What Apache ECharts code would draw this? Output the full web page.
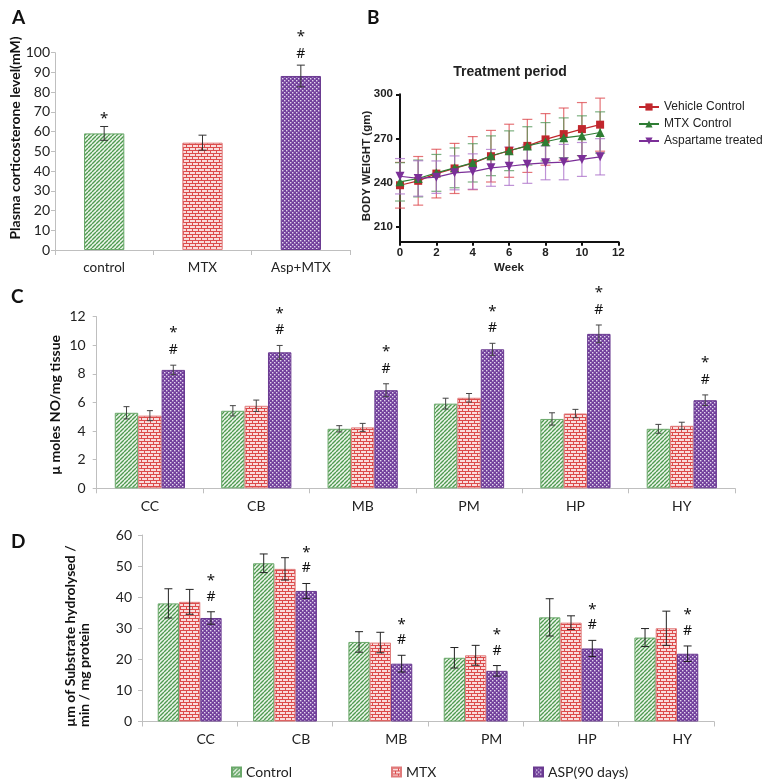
<!DOCTYPE html>
<html>
<head>
<meta charset="utf-8">
<script src="https://cdn.jsdelivr.net/npm/echarts@6/dist/echarts.min.js"></script>
<style>
html,body{margin:0;padding:0;background:#fff;}
#chart{width:762px;height:780px;}
</style>
</head>
<body>
<div id="chart"></div>
<script>
// ---------- DATA ----------
// Panel A
const aCategories = ['control', 'MTX', 'Asp+MTX'];
const aValues = [59.1, 54.4, 88.2];
const aErrors = [3.5, 3.8, 5.5];
const aMarks = [['*'], [], ['*', '#']];

// Panel B
const bWeeks = [0, 1, 2, 3, 4, 5, 6, 7, 8, 9, 10, 11];
const bYTicks = [210, 240, 270, 300];
const bVehicle = [238.3, 241.3, 246.2, 249.7, 253.3, 258.0, 261.7, 265.0, 269.4, 273.0, 276.4, 279.4];
const bVehicleErr = [15.5, 16.5, 16.5, 17.0, 18.0, 17.5, 18.0, 18.0, 17.5, 17.7, 18.0, 18.0];
const bMtx = [240.6, 242.9, 246.7, 250.1, 253.5, 258.3, 261.7, 265.0, 267.8, 270.5, 271.9, 274.1];
const bMtxErr = [13.0, 12.5, 12.5, 13.5, 13.0, 13.5, 13.5, 13.0, 13.0, 13.5, 13.5, 14.0];
const bAsp = [244.4, 242.9, 243.8, 246.7, 247.6, 250.1, 251.2, 252.6, 253.5, 254.0, 255.8, 257.6];
const bAspErr = [12.0, 12.0, 11.0, 11.5, 12.0, 12.5, 13.0, 13.0, 11.5, 12.0, 11.5, 12.3];

// Panel C
const organs = ['CC', 'CB', 'MB', 'PM', 'HP', 'HY'];
const cControl = [5.28, 5.42, 4.16, 5.92, 4.85, 4.16];
const cControlErr = [0.43, 0.36, 0.22, 0.38, 0.43, 0.31];
const cMtx = [5.08, 5.77, 4.26, 6.33, 5.23, 4.37];
const cMtxErr = [0.35, 0.40, 0.28, 0.30, 0.29, 0.25];
const cAsp = [8.28, 9.51, 6.86, 9.72, 10.8, 6.16];
const cAspErr = [0.33, 0.48, 0.45, 0.42, 0.62, 0.37];
const cMarks = [['*', '#'], ['*', '#'], ['*', '#'], ['*', '#'], ['*', '#'], ['*', '#']];

// Panel D
const dControl = [38.0, 50.9, 25.6, 20.5, 33.5, 27.0];
const dControlErr = [4.7, 3.0, 3.3, 3.3, 6.0, 2.9];
const dMtx = [38.5, 49.1, 25.4, 21.3, 31.8, 30.0];
const dMtxErr = [4.0, 3.6, 3.3, 3.2, 2.2, 5.5];
const dAsp = [33.3, 42.0, 18.6, 16.3, 23.5, 21.8];
const dAspErr = [2.0, 2.4, 2.7, 1.7, 2.6, 2.5];
const dMarks = [['*', '#'], ['*', '#'], ['*', '#'], ['*', '#'], ['*', '#'], ['*', '#']];

const groupNames = ['Control', 'MTX', 'ASP(90 days)'];
const bNames = ['Vehicle Control', 'MTX Control', 'Aspartame treated'];

// ---------- STYLE HELPERS ----------
const FONT = 'Lato';
const ARIAL = 'Liberation Sans';
const AXIS_GRAY = '#bfbfbf';

function makeCanvas(w, h) {
  const c = document.createElement('canvas');
  c.width = w; c.height = h;
  return c;
}
function greenHatch() {
  const c = makeCanvas(4, 4), g = c.getContext('2d');
  g.fillStyle = '#eef6ec'; g.fillRect(0, 0, 4, 4);
  g.strokeStyle = '#4f9a50'; g.lineWidth = 1.4;
  g.beginPath();
  for (let k = -4; k <= 8; k += 4) { g.moveTo(k, 4); g.lineTo(k + 4, 0); }
  g.stroke();
  return { image: c, repeat: 'repeat' };
}
function redBrick() {
  const c = makeCanvas(6, 6), g = c.getContext('2d');
  g.fillStyle = '#f9dcdc'; g.fillRect(0, 0, 6, 6);
  g.fillStyle = '#dc4b4b';
  g.fillRect(0, 0, 6, 1);
  g.fillRect(0, 3, 6, 1);
  g.fillRect(0, 0, 1, 3);
  g.fillRect(3, 3, 1, 3);
  return { image: c, repeat: 'repeat' };
}
function purpleDots() {
  const c = makeCanvas(4, 4), g = c.getContext('2d');
  g.fillStyle = '#72409c'; g.fillRect(0, 0, 4, 4);
  g.fillStyle = '#e3d6ee';
  g.fillRect(0, 0, 1.4, 1.4);
  g.fillRect(2, 2, 1.4, 1.4);
  return { image: c, repeat: 'repeat' };
}
const fills = [greenHatch(), redBrick(), purpleDots()];
const borders = ['#6aa86a', '#e07a7a', '#6a3a90'];

function errorSeries(xi, yi, nSeries, idx, gap, values, errors, color, cap, z) {
  return {
    type: 'custom', xAxisIndex: xi, yAxisIndex: yi, z: z || 5, silent: true,
    data: values.map((v, i) => [i, v, errors[i]]),
    encode: { x: 0, y: 1 },
    renderItem: function (params, api) {
      const x = api.value(0), m = api.value(1), e = api.value(2);
      const c = api.coord([x, m]);
      const catW = api.size([1, 0])[0];
      const bw = catW * (1 - gap) / nSeries;
      const cx = c[0] + (idx - (nSeries - 1) / 2) * bw;
      const top = api.coord([x, m + e])[1];
      const bot = api.coord([x, m - e])[1];
      const st = { stroke: color, lineWidth: 1 };
      return { type: 'group', children: [
        { type: 'line', shape: { x1: cx, y1: top, x2: cx, y2: bot }, style: st },
        { type: 'line', shape: { x1: cx - cap, y1: top, x2: cx + cap, y2: top }, style: st },
        { type: 'line', shape: { x1: cx - cap, y1: bot, x2: cx + cap, y2: bot }, style: st }
      ]};
    }
  };
}

function markSeries(xi, yi, nSeries, idx, gap, values, errors, marks, firstGap, step) {
  return {
    type: 'custom', xAxisIndex: xi, yAxisIndex: yi, z: 6, silent: true,
    data: values.map((v, i) => [i, v, errors[i]]),
    encode: { x: 0, y: 1 },
    renderItem: function (params, api) {
      const i = params.dataIndex;
      const x = api.value(0), m = api.value(1), e = api.value(2);
      const c = api.coord([x, m]);
      const catW = api.size([1, 0])[0];
      const bw = catW * (1 - gap) / nSeries;
      const cx = c[0] + (idx - (nSeries - 1) / 2) * bw;
      const top = api.coord([x, m + e])[1];
      const list = marks[i].slice().reverse();
      const children = list.map((t, k) => ({
        type: 'text',
        style: {
          text: t, x: cx, y: top - firstGap - k * step + (t === '*' ? 3 : 0),
          align: 'center', verticalAlign: 'middle',
          fontFamily: 'Noto Sans', fontSize: t === '*' ? 15 : 14, fill: '#111'
        }
      }));
      return { type: 'group', children: children };
    }
  };
}

function barSeries(name, xi, yi, data, k, gap) {
  return {
    name: name, type: 'bar', xAxisIndex: xi, yAxisIndex: yi,
    data: data, barGap: '0%', barCategoryGap: (gap * 100) + '%',
    itemStyle: { color: fills[k], borderColor: borders[k], borderWidth: 1 },
    emphasis: { disabled: true }
  };
}

function catAxis(gi, data, margin, padLeft) {
  return {
    type: 'category', gridIndex: gi, data: data,
    axisLine: { lineStyle: { color: AXIS_GRAY, width: 1 } },
    axisTick: { show: true, length: 5, alignWithLabel: false, lineStyle: { color: AXIS_GRAY } },
    axisLabel: { margin: margin, fontFamily: FONT, fontSize: 14, color: '#222',
      padding: padLeft ? [0, 0, 0, padLeft] : 0 }
  };
}
function valAxis(gi, min, max, interval, margin, fs) {
  return {
    type: 'value', gridIndex: gi, min: min, max: max, interval: interval,
    axisLine: { show: true, lineStyle: { color: AXIS_GRAY, width: 1 } },
    axisTick: { show: true, length: 4, lineStyle: { color: AXIS_GRAY } },
    axisLabel: { margin: margin, fontFamily: FONT, fontSize: fs, color: '#222' },
    splitLine: { show: false }
  };
}

const A_GAP = 0.59, C_GAP = 0.34, D_GAP = 0.33;

// ---------- SERIES ----------
const series = [];
// A
series.push({
  name: 'A', type: 'bar', xAxisIndex: 0, yAxisIndex: 0, barCategoryGap: (A_GAP * 100) + '%',
  data: aValues.map((v, i) => ({ value: v, itemStyle: { color: fills[i], borderColor: borders[i], borderWidth: 1 } })),
  emphasis: { disabled: true }
});
series.push(errorSeries(0, 0, 1, 0, A_GAP, aValues, aErrors, '#333', 4));
series.push(markSeries(0, 0, 1, 0, A_GAP, aValues, aErrors, aMarks, 11, 20));

// B
const bColors = ['#c1272d', '#2f7d34', '#7b2f98'];
const bErrColors = ['rgba(220,70,75,0.75)', 'rgba(80,150,85,0.75)', 'rgba(170,110,200,0.75)'];
const bSeriesData = [bVehicle, bMtx, bAsp];
const bSeriesErr = [bVehicleErr, bMtxErr, bAspErr];
const bSymbols = ['rect', 'triangle', 'path://M0,0 L10,0 L5,9 Z'];
const bSizes = [8, 9, 9];
bSeriesData.forEach((vals, s) => {
  series.push({
    type: 'custom', xAxisIndex: 1, yAxisIndex: 1, z: 1, silent: true,
    data: vals.map((v, i) => [bWeeks[i], v, bSeriesErr[s][i]]),
    encode: { x: 0, y: 1 },
    renderItem: function (params, api) {
      const x = api.value(0), m = api.value(1), e = api.value(2);
      const cx = api.coord([x, m])[0];
      const top = api.coord([x, m + e])[1], bot = api.coord([x, m - e])[1];
      const st = { stroke: bErrColors[s], lineWidth: 1.2 };
      return { type: 'group', children: [
        { type: 'line', shape: { x1: cx, y1: top, x2: cx, y2: bot }, style: st },
        { type: 'line', shape: { x1: cx - 5, y1: top, x2: cx + 5, y2: top }, style: st },
        { type: 'line', shape: { x1: cx - 5, y1: bot, x2: cx + 5, y2: bot }, style: st }
      ]};
    }
  });
});
bSeriesData.forEach((vals, s) => {
  series.push({
    name: bNames[s], type: 'line', xAxisIndex: 1, yAxisIndex: 1, z: 3 + s,
    data: vals.map((v, i) => [bWeeks[i], v]),
    symbol: bSymbols[s], symbolSize: bSizes[s],
    lineStyle: { color: bColors[s], width: 1.2 },
    itemStyle: { color: bColors[s] },
    emphasis: { disabled: true }
  });
});

// C
[cControl, cMtx, cAsp].forEach((vals, k) => series.push(barSeries(groupNames[k], 2, 2, vals, k, C_GAP)));
[[cControl, cControlErr], [cMtx, cMtxErr], [cAsp, cAspErr]].forEach((p, k) =>
  series.push(errorSeries(2, 2, 3, k, C_GAP, p[0], p[1], '#444', 3)));
series.push(markSeries(2, 2, 3, 2, C_GAP, cAsp, cAspErr, cMarks, 15, 20));

// D
[dControl, dMtx, dAsp].forEach((vals, k) => series.push(barSeries(groupNames[k], 3, 3, vals, k, D_GAP)));
[[dControl, dControlErr], [dMtx, dMtxErr], [dAsp, dAspErr]].forEach((p, k) =>
  series.push(errorSeries(3, 3, 3, k, D_GAP, p[0], p[1], '#222', 4)));
series.push(markSeries(3, 3, 3, 2, D_GAP, dAsp, dAspErr, dMarks, 15, 19));

// ---------- OPTION ----------
const bAxisLine = { show: true, lineStyle: { color: '#111', width: 2 } };
const bAxisTick = { show: true, length: 4, lineStyle: { color: '#111', width: 2 } };
const bLabel = { fontFamily: ARIAL, fontWeight: 'bold', fontSize: 11.5, color: '#222' };

const option = {
  animation: false,
  backgroundColor: '#ffffff',
  grid: [
    { left: 55, top: 52.7, width: 295, height: 197.3 },
    { left: 400, top: 94.3, width: 218.3, height: 147.4 },
    { left: 96.7, top: 316.7, width: 638.3, height: 171.6 },
    { left: 142, top: 535, width: 572, height: 186.5 }
  ],
  xAxis: [
    Object.assign(catAxis(0, aCategories, 11, 0), { axisLabel: { margin: 11, fontFamily: FONT, fontSize: 13.5, color: '#222' } }),
    {
      type: 'value', gridIndex: 1, min: 0, max: 12, interval: 2,
      axisLine: bAxisLine, axisTick: bAxisTick,
      axisLabel: Object.assign({ margin: 5 }, bLabel),
      splitLine: { show: false }
    },
    catAxis(2, organs, 11, 0),
    catAxis(3, organs, 11, 32)
  ],
  yAxis: [
    valAxis(0, 0, 100, 10, 5, 14),
    {
      type: 'value', gridIndex: 1, min: 200, max: 300, interval: 10,
      axisLine: bAxisLine,
      axisTick: Object.assign({ customValues: bYTicks }, bAxisTick),
      axisLabel: Object.assign({ margin: 7, customValues: bYTicks }, bLabel),
      splitLine: { show: false }
    },
    valAxis(2, 0, 12, 2, 11, 14),
    valAxis(3, 0, 60, 10, 10, 14)
  ],
  legend: [
    {
      data: bNames, orient: 'vertical', left: 633, top: 96,
      itemWidth: 20, itemHeight: 9, itemGap: 5, selectedMode: false,
      textStyle: { fontFamily: ARIAL, fontSize: 12, color: '#222', lineHeight: 12 }
    },
    {
      data: [groupNames[0]], left: 226, top: 760, icon: 'rect', itemWidth: 9, itemHeight: 9, selectedMode: false,
      textStyle: { fontFamily: FONT, fontSize: 14, color: '#222', lineHeight: 14 }
    },
    {
      data: [groupNames[1]], left: 386, top: 760, icon: 'rect', itemWidth: 9, itemHeight: 9, selectedMode: false,
      textStyle: { fontFamily: FONT, fontSize: 14, color: '#222', lineHeight: 14 }
    },
    {
      data: [groupNames[2]], left: 528, top: 760, icon: 'rect', itemWidth: 9, itemHeight: 9, selectedMode: false,
      textStyle: { fontFamily: FONT, fontSize: 14, color: '#222', lineHeight: 14 }
    }
  ],
  graphic: [
    { type: 'text', left: 12, top: 8, style: { text: 'A', fontFamily: FONT, fontWeight: 'bold', fontSize: 19, fill: '#111' } },
    { type: 'text', left: 367, top: 8, style: { text: 'B', fontFamily: FONT, fontWeight: 'bold', fontSize: 19, fill: '#111' } },
    { type: 'text', left: 11, top: 287, style: { text: 'C', fontFamily: FONT, fontWeight: 'bold', fontSize: 19, fill: '#111' } },
    { type: 'text', left: 11, top: 532, style: { text: 'D', fontFamily: FONT, fontWeight: 'bold', fontSize: 19, fill: '#111' } },
    { type: 'text', x: 15, y: 138, rotation: Math.PI / 2,
      style: { text: 'Plasma corticosterone level(mM)', align: 'center', verticalAlign: 'middle', fontFamily: FONT, fontWeight: 'bold', fontSize: 14, fill: '#111' } },
    { type: 'text', x: 510, y: 72,
      style: { text: 'Treatment period', align: 'center', verticalAlign: 'middle', fontFamily: ARIAL, fontWeight: 'bold', fontSize: 14, fill: '#222' } },
    { type: 'text', x: 367, y: 166, rotation: Math.PI / 2,
      style: { text: 'BODY WEIGHT (gm)', align: 'center', verticalAlign: 'middle', fontFamily: ARIAL, fontWeight: 'bold', fontSize: 11.5, fill: '#222' } },
    { type: 'text', x: 509, y: 268,
      style: { text: 'Week', align: 'center', verticalAlign: 'middle', fontFamily: ARIAL, fontWeight: 'bold', fontSize: 11.5, fill: '#222' } },
    { type: 'text', x: 55, y: 405, rotation: Math.PI / 2,
      style: { text: 'µ moles NO/mg tissue', align: 'center', verticalAlign: 'middle', fontFamily: FONT, fontWeight: 'bold', fontSize: 14, fill: '#111' } },
    { type: 'text', x: 77, y: 727, rotation: Math.PI / 2,
      style: { text: 'µm of Substrate hydrolysed /\nmin / mg protein', align: 'left', verticalAlign: 'middle', lineHeight: 14, fontFamily: FONT, fontWeight: 'bold', fontSize: 14, fill: '#111' } }
  ],
  series: series
};

const chart = echarts.init(document.getElementById('chart'), null, { renderer: 'canvas' });
chart.setOption(option);
</script>
</body>
</html>
